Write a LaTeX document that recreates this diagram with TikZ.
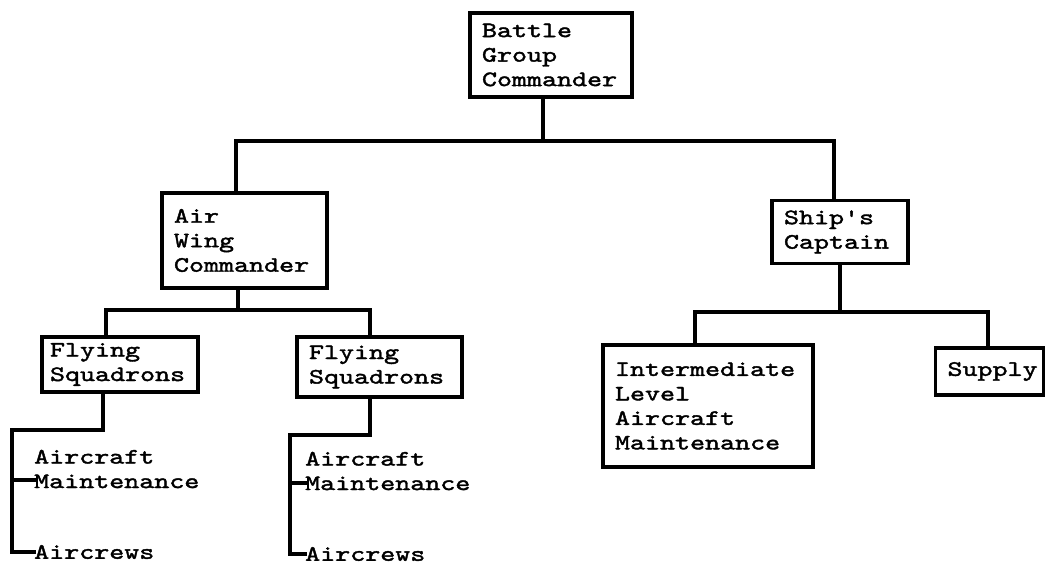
\documentclass[tikz,border=0pt]{standalone}
\usepackage{fontspec}
\newfontfamily\typer{lmmono10-regular.otf}[FakeStretch=1.3,FakeBold=1.8]
\begin{document}
\begin{tikzpicture}[x=1pt,y=-1pt,
  every node/.style={font=\typer\fontsize{22}{24.5}\selectfont},
  orgbox/.style={draw,line width=3.5pt,inner xsep=12pt,inner ysep=0pt,align=left},
  label/.style={inner sep=0pt,align=left,anchor=west},
  link/.style={line width=3.5pt,line cap=rect}]
\useasboundingbox (0,0) rectangle (1046,564);
% boxes
\node[orgbox,text width=138pt,minimum height=84pt] (bgc) at (551,55) {Battle\\Group\\Commander};
\node[orgbox,text width=141pt,minimum height=95pt] (awc) at (244.5,240.5) {Air\\Wing\\Commander};
\node[orgbox,text width=112pt,minimum height=63pt] (sc) at (840,232) {Ship's\\Captain};
\node[orgbox,text width=140pt,minimum height=55pt,inner xsep=8pt] (fs1) at (120,364.5) {Flying\\Squadrons};
\node[orgbox,text width=141pt,minimum height=60pt] (fs2) at (379.5,367) {Flying\\Squadrons};
\node[orgbox,text width=186pt,minimum height=122pt] (ilam) at (708,406) {Intermediate\\Level\\Aircraft\\Maintenance};
\node[orgbox,text width=84pt,minimum height=47pt] (sup) at (989.5,371.5) {Supply};
% plain labels
\node[label] (am1) at (34,469) {Aircraft\\Maintenance};
\node[label] (ac1) at (34,552) {Aircrews};
\node[label] (am2) at (305,471) {Aircraft\\Maintenance};
\node[label] (ac2) at (305,554) {Aircrews};
% junction points
\coordinate (j0) at (543,141);
\coordinate (h1L) at (236,141);
\coordinate (h1R) at (834,141);
\coordinate (j1) at (238,310);
\coordinate (h2L) at (106,310);
\coordinate (h2R) at (370,310);
\coordinate (j2) at (840,312);
\coordinate (h3L) at (695,312);
\coordinate (h3R) at (988,312);
\coordinate (k1a) at (103,430);
\coordinate (k1b) at (12,430);
\coordinate (k1c) at (12,552);
\coordinate (t1) at (12,480);
\coordinate (k2a) at (370,435);
\coordinate (k2b) at (290,435);
\coordinate (k2c) at (290,554);
\coordinate (t2) at (290,483);
% connectors
\draw[link] (bgc.south -| j0) -- (j0);
\draw[link] (awc.north -| h1L) -- (h1L) -- (h1R) -- (sc.north -| h1R);
\draw[link] (awc.south -| j1) -- (j1);
\draw[link] (fs1.north -| h2L) -- (h2L) -- (h2R) -- (fs2.north -| h2R);
\draw[link] (sc.south -| j2) -- (j2);
\draw[link] (ilam.north -| h3L) -- (h3L) -- (h3R) -- (sup.north -| h3R);
\draw[link] (fs1.south -| k1a) -- (k1a) -- (k1b) -- (k1c) -- (ac1.west);
\draw[link] (t1) -- (am1.west |- t1);
\draw[link] (fs2.south -| k2a) -- (k2a) -- (k2b) -- (k2c) -- (ac2.west);
\draw[link] (t2) -- (am2.west |- t2);
\end{tikzpicture}
\end{document}
